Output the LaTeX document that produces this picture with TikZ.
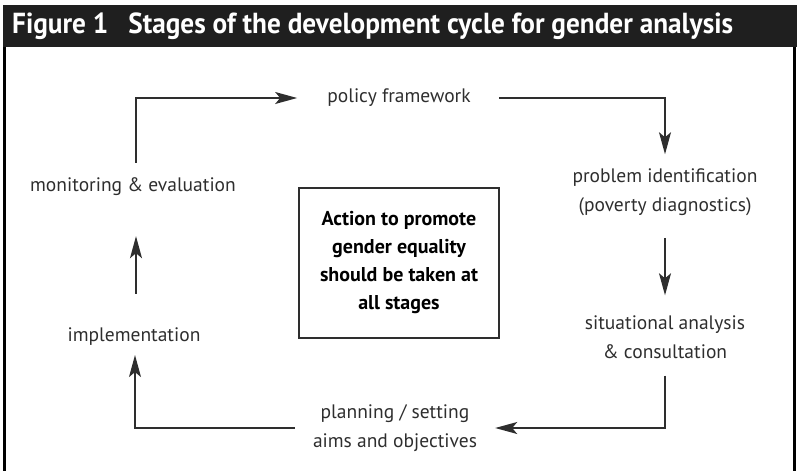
\documentclass[tikz,border=0pt]{standalone}
\usepackage{fontspec}
\setmainfont{PT Sans}
\newfontfamily\headfont{PT Sans}[FakeStretch=0.94]
\usepackage{tikz}
\usetikzlibrary{arrows.meta,positioning}

\definecolor{ink}{HTML}{2E2E2E}

\begin{document}
\begin{tikzpicture}[
    x=1pt,y=-1pt,
    stage/.style={text=ink,align=center,inner sep=0pt,font=\fontsize{19.5}{29}\selectfont},
    note/.style={draw=ink,line width=1.2pt,text=black,align=center,minimum width=200pt,minimum height=150pt,
                 font=\fontsize{20}{28}\selectfont\bfseries},
    flow/.style={draw=ink,line width=1.3pt,-{Stealth[length=22pt,width=12pt,inset=5pt]}},
    frame/.style={draw=black,line width=3pt},
]
    \useasboundingbox (0,0) rectangle (797,471);

    % header bar
    \fill[black!88] (3,5) rectangle (797,47);
    \node[anchor=west,text=white,inner sep=0pt,font=\headfont\fontsize{29}{30}\selectfont\bfseries] (title) at (12,26)
        {Figure 1\hspace{0.45em} Stages of the development cycle for gender analysis};
    \draw[frame] (4.5,47) -- (4.5,471);
    \draw[frame] (794.5,47) -- (794.5,471);

    % stages of the cycle
    \node[stage] (policy) at (399,98) {policy framework};
    \node[stage] (problem) at (665,192) {problem identification\\(poverty diagnostics)};
    \node[stage] (situation) at (665,337) {situational analysis\\\& consultation};
    \node[stage] (planning) at (395,428) {planning / setting\\aims and objectives};
    \node[stage] (implement) at (134,337) {implementation};
    \node[stage] (monitor) at (133,187) {monitoring \& evaluation};

    % centre message
    \node[note] (action) at (399,263) {\rule{0pt}{3pt}Action to promote\\gender equality\\should be taken at\\all stages};

    % arrows round the cycle
    \draw[flow] ([xshift=3pt,yshift=15pt]monitor.north) |- ([xshift=-30pt]policy.west);
    \draw[flow] ([xshift=28pt]policy.east) -| ([yshift=14pt]problem.north);
    \draw[flow] ([yshift=-22pt]problem.south) -- ([yshift=20pt]situation.north);
    \draw[flow] ([yshift=-17pt]situation.south) |- ([xshift=18pt]planning.east);
    \draw[flow] ([xshift=-18pt]planning.west) -| ([xshift=1pt,yshift=-9pt]implement.south);
    \draw[flow] ([xshift=2pt,yshift=34pt]implement.north) -- ([xshift=3pt,yshift=-40pt]monitor.south);
\end{tikzpicture}
\end{document}
